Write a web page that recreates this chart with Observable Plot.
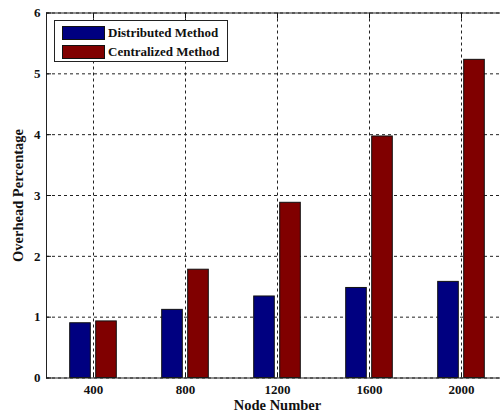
<!DOCTYPE html>
<html>
<head>
<meta charset="utf-8">
<script src="https://cdn.jsdelivr.net/npm/d3@7"></script>
<script src="https://cdn.jsdelivr.net/npm/@observablehq/plot@0.6"></script>
<style>
  html, body { margin: 0; padding: 0; background: white; overflow: hidden; }
  #wrap { position: relative; width: 500px; height: 416px; overflow: hidden; }
  #legend { position: absolute; left: 54px; top: 20px; width: 174px; height: 42px;
    border: 1px solid #222; background: white; font-family: "Liberation Serif", serif;
    font-weight: bold; font-size: 13px; color: #111; box-sizing: border-box; }
  .item { position: absolute; left: 7px; display: flex; align-items: center; }
  .sw { width: 43px; height: 14px; border: 1px solid #111; box-sizing: border-box; margin-right: 3px; }
</style>
</head>
<body>
<div id="wrap"></div>
<script>
const nodes = ["400", "800", "1200", "1600", "2000"];
const distributed = [0.90, 1.12, 1.34, 1.48, 1.58];
const centralized = [0.93, 1.78, 2.88, 3.97, 5.23];
const yTicks = [0, 1, 2, 3, 4, 5, 6];
const seriesNames = ["Distributed Method", "Centralized Method"];
const seriesColors = ["#000080", "#800000"];

const rows = nodes.map((n, i) => ({node: n, distributed: distributed[i], centralized: centralized[i]}));

const grid = {stroke: "#222", strokeOpacity: 1, strokeDasharray: "3,3", strokeWidth: 1};

const chart = Plot.plot({
  width: 510,
  height: 416,
  marginTop: 12.5,
  marginBottom: 38.5,
  marginLeft: 46,
  marginRight: 2,
  style: {fontFamily: "Liberation Serif, serif", fontWeight: "bold", fontSize: "13px", maxWidth: "none", color: "#111", background: "white"},
  x: {domain: nodes, padding: 0},
  y: {domain: [0, 6]},
  marks: [
    Plot.gridY(yTicks, grid),
    Plot.gridX(nodes, grid),
    Plot.barY(rows, {x: "node", y: "distributed", dx: -13, insetLeft: 35.7, insetRight: 35.7,
      fill: seriesColors[0], stroke: "#111", strokeWidth: 1}),
    Plot.barY(rows, {x: "node", y: "centralized", dx: 13, insetLeft: 35.7, insetRight: 35.7,
      fill: seriesColors[1], stroke: "#111", strokeWidth: 1}),
    Plot.frame({stroke: "#222", strokeWidth: 1}),
    Plot.axisY(yTicks, {tickSize: -5, tickPadding: 11, tickFormat: d => String(d), label: null, fontSize: 13}),
    Plot.axisX(nodes, {anchor: "bottom", tickSize: -5, tickPadding: 12, label: null, fontSize: 13}),
    Plot.axisX(nodes, {anchor: "top", tickSize: -5, tickFormat: () => "", label: null}),
    Plot.text(["Overhead Percentage"], {frameAnchor: "left", textAnchor: "middle", dx: -28, rotate: -90, fontSize: 14.5, fontWeight: "bold"}),
    Plot.text(["Node Number"], {frameAnchor: "bottom", dy: 32, fontSize: 14.5, fontWeight: "bold"})
  ]
});

const wrap = document.getElementById("wrap");
wrap.appendChild(chart);

const legend = document.createElement("div");
legend.id = "legend";
seriesNames.forEach((name, i) => {
  const item = document.createElement("div");
  item.className = "item";
  item.style.top = (4 + i * 18.5) + "px";
  const sw = document.createElement("div");
  sw.className = "sw";
  sw.style.background = seriesColors[i];
  const t = document.createElement("span");
  t.textContent = name;
  item.appendChild(sw);
  item.appendChild(t);
  legend.appendChild(item);
});
wrap.appendChild(legend);
</script>
</body>
</html>
